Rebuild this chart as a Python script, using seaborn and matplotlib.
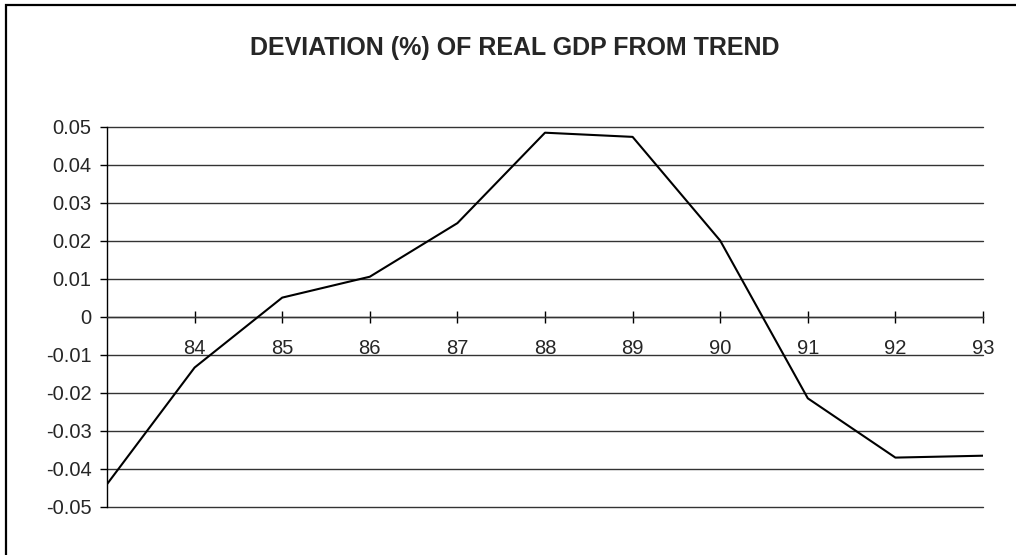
import matplotlib
matplotlib.use("Agg")
import matplotlib.pyplot as plt
import matplotlib.patches as patches
import pandas as pd
import seaborn as sns

# годы (83 - первая точка без подписи) и отклонение от тренда
years = [83, 84, 85, 86, 87, 88, 89, 90, 91, 92, 93]
deviation = [-0.044, -0.0133, 0.0051, 0.0106, 0.0247, 0.0485, 0.0474,
             0.0201, -0.0214, -0.037, -0.0365]
xtick_years = [84, 85, 86, 87, 88, 89, 90, 91, 92, 93]
ytick_values = [0.05, 0.04, 0.03, 0.02, 0.01, 0, -0.01, -0.02, -0.03, -0.04, -0.05]
ytick_labels = ['0.05', '0.04', '0.03', '0.02', '0.01', '0',
                '-0.01', '-0.02', '-0.03', '-0.04', '-0.05']

df = pd.DataFrame({'year': years, 'deviation': deviation})

sns.set_style('white')
plt.rcParams['font.family'] = ['Liberation Sans', 'DejaVu Sans']
plt.rcParams['axes.unicode_minus'] = False

fig = plt.figure(figsize=(10.16, 5.55), dpi=100)
ax = fig.add_axes([107 / 1016, 1 - 507 / 555, 876 / 1016, 380 / 555])

# горизонтальная сетка
for v in ytick_values:
    ax.axhline(v, color='#333333', linewidth=1, zorder=1, clip_on=False)

sns.lineplot(data=df, x='year', y='deviation', color='black', linewidth=1.5, ax=ax, zorder=3)

ax.set_xlim(83, 93)
ax.set_ylim(-0.05, 0.05)
ax.set_xticks(xtick_years)
ax.set_xticklabels([str(y) for y in xtick_years])
ax.set_yticks(ytick_values)
ax.set_yticklabels(ytick_labels)
ax.set_xlabel('')
ax.set_ylabel('')

ax.spines['top'].set_visible(False)
ax.spines['right'].set_visible(False)
ax.spines['bottom'].set_position(('data', 0))
ax.spines['bottom'].set_color('#333333')
ax.spines['left'].set_color('black')
ax.spines['left'].set_linewidth(1)
ax.spines['bottom'].set_linewidth(1)

ax.tick_params(axis='x', direction='inout', length=9, width=1, color='black',
               labelsize=14.5, pad=11)
ax.tick_params(axis='y', direction='out', length=5, width=1, color='black',
               labelsize=14.5, pad=6)
ax.tick_params(left=True, bottom=True)

fig.text(515 / 1016, 1 - 48 / 555, 'DEVIATION (%) OF REAL GDP FROM TREND',
         ha='center', va='center', fontsize=18, fontweight='bold')

# рамка вокруг диаграммы
frame = patches.Rectangle((6 / 1016, -0.1), 1.1, 1 - 5 / 555 + 0.1,
                          transform=fig.transFigure, fill=False,
                          edgecolor='black', linewidth=1.6, clip_on=False)
fig.patches.append(frame)

fig.savefig('out.png', dpi=100)
